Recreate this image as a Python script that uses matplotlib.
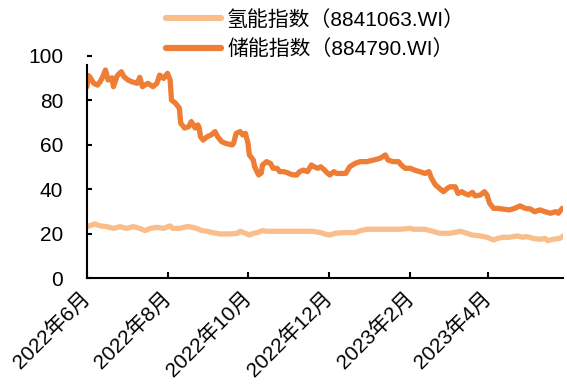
import matplotlib
matplotlib.use("Agg")
import matplotlib.pyplot as plt
import pandas as pd

plt.rcParams['font.family'] = ['Liberation Sans', 'Noto Sans CJK SC', 'DejaVu Sans']

# 储能指数 (884790.WI)
storage_dates = [
    "2022-06-01", "2022-06-02", "2022-06-03", "2022-06-06", "2022-06-09", "2022-06-11",
    "2022-06-13", "2022-06-15", "2022-06-17", "2022-06-20", "2022-06-21", "2022-06-24",
    "2022-06-27", "2022-06-29", "2022-07-02", "2022-07-05", "2022-07-09", "2022-07-11",
    "2022-07-13", "2022-07-17", "2022-07-21", "2022-07-24", "2022-07-26", "2022-07-29",
    "2022-08-01", "2022-08-03", "2022-08-04", "2022-08-07", "2022-08-10", "2022-08-11",
    "2022-08-14", "2022-08-17", "2022-08-19", "2022-08-22", "2022-08-24", "2022-08-25",
    "2022-08-26", "2022-08-28", "2022-08-31", "2022-09-03", "2022-09-06", "2022-09-08",
    "2022-09-11", "2022-09-14", "2022-09-19", "2022-09-20", "2022-09-22", "2022-09-25",
    "2022-09-27", "2022-09-29", "2022-10-01", "2022-10-02", "2022-10-05", "2022-10-06",
    "2022-10-09", "2022-10-11", "2022-10-12", "2022-10-15", "2022-10-18", "2022-10-20",
    "2022-10-23", "2022-10-25", "2022-10-28", "2022-10-31", "2022-11-02", "2022-11-05",
    "2022-11-07", "2022-11-09", "2022-11-12", "2022-11-15", "2022-11-18", "2022-11-20",
    "2022-11-23", "2022-11-25", "2022-11-28", "2022-11-30", "2022-12-02", "2022-12-05",
    "2022-12-07", "2022-12-11", "2022-12-14", "2022-12-17", "2022-12-21", "2022-12-25",
    "2022-12-30", "2023-01-04", "2023-01-09", "2023-01-13", "2023-01-15", "2023-01-19",
    "2023-01-23", "2023-01-25", "2023-01-28", "2023-02-01", "2023-02-04", "2023-02-08",
    "2023-02-12", "2023-02-15", "2023-02-17", "2023-02-20", "2023-02-23", "2023-02-26",
    "2023-03-01", "2023-03-03", "2023-03-07", "2023-03-09", "2023-03-12", "2023-03-14",
    "2023-03-17", "2023-03-20", "2023-03-22", "2023-03-26", "2023-03-29", "2023-03-31",
    "2023-04-02", "2023-04-05", "2023-04-08", "2023-04-12", "2023-04-17", "2023-04-21",
    "2023-04-25", "2023-04-29", "2023-05-03", "2023-05-06", "2023-05-10", "2023-05-14",
    "2023-05-18", "2023-05-22", "2023-05-24", "2023-05-27",
]
storage_values = [
    86.0, 91.0, 90.5, 87.6, 86.7, 88.2,
    90.5, 93.5, 89.0, 90.0, 86.0, 91.0,
    92.7, 90.5, 89.0, 88.2, 87.5, 90.2,
    86.0, 87.5, 86.0, 87.5, 91.2, 89.7,
    92.0, 89.0, 80.0, 78.6, 76.3, 69.6,
    67.4, 68.0, 70.3, 67.4, 68.8, 67.5,
    63.5, 62.0, 63.5, 64.3, 65.8, 63.5,
    61.3, 60.5, 59.8, 60.5, 65.0, 65.8,
    64.3, 65.0, 60.5, 55.3, 53.0, 50.0,
    46.3, 47.2, 50.8, 52.3, 51.5, 49.3,
    49.3, 47.8, 47.8, 47.3, 46.7, 46.3,
    46.3, 47.8, 48.5, 47.8, 50.8, 50.0,
    49.3, 50.0, 48.5, 47.2, 46.3, 47.8,
    47.0, 47.0, 47.0, 50.0, 51.5, 52.3,
    52.3, 53.0, 53.8, 55.3, 53.0, 52.3,
    52.3, 50.8, 49.3, 49.3, 48.5, 47.8,
    47.0, 47.8, 44.8, 41.8, 40.3, 38.8,
    40.3, 41.0, 41.0, 38.0, 38.8, 38.0,
    37.3, 38.5, 36.9, 37.3, 38.8, 37.3,
    33.6, 31.3, 31.3, 31.0, 30.6, 31.3,
    32.4, 31.3, 31.0, 29.8, 30.6, 29.8,
    29.1, 29.8, 29.1, 31.3,
]

# 氢能指数 (8841063.WI)
hydrogen_dates = [
    "2022-06-01", "2022-06-07", "2022-06-11", "2022-06-16", "2022-06-21", "2022-06-26",
    "2022-07-01", "2022-07-06", "2022-07-11", "2022-07-15", "2022-07-19", "2022-07-24",
    "2022-07-29", "2022-08-03", "2022-08-05", "2022-08-10", "2022-08-16", "2022-08-20",
    "2022-08-23", "2022-08-27", "2022-08-31", "2022-09-04", "2022-09-10", "2022-09-17",
    "2022-09-23", "2022-09-25", "2022-09-29", "2022-10-02", "2022-10-05", "2022-10-08",
    "2022-10-12", "2022-10-15", "2022-10-25", "2022-11-09", "2022-11-19", "2022-11-25",
    "2022-11-28", "2022-12-02", "2022-12-06", "2022-12-13", "2022-12-21", "2022-12-25",
    "2022-12-30", "2023-01-09", "2023-01-24", "2023-02-01", "2023-02-03", "2023-02-12",
    "2023-02-18", "2023-02-23", "2023-03-03", "2023-03-11", "2023-03-14", "2023-03-20",
    "2023-03-26", "2023-03-31", "2023-04-05", "2023-04-08", "2023-04-12", "2023-04-17",
    "2023-04-23", "2023-04-27", "2023-04-30", "2023-05-05", "2023-05-10", "2023-05-14",
    "2023-05-16", "2023-05-20", "2023-05-25", "2023-05-28",
]
hydrogen_values = [
    23.1, 24.3, 23.4, 23.1, 22.3, 23.1,
    22.3, 23.1, 22.3, 21.3, 22.3, 22.8,
    22.3, 23.4, 22.3, 22.3, 23.1, 22.8,
    22.3, 21.3, 21.0, 20.4, 19.8, 19.8,
    20.1, 21.0, 20.1, 19.3, 20.1, 20.4,
    21.3, 21.0, 21.0, 21.0, 21.0, 20.4,
    19.8, 19.3, 20.1, 20.4, 20.4, 21.3,
    21.9, 21.9, 21.9, 22.3, 21.9, 21.9,
    21.0, 20.1, 20.1, 21.0, 20.4, 19.3,
    18.9, 18.3, 17.1, 17.8, 18.3, 18.3,
    18.9, 18.3, 18.6, 17.8, 17.4, 17.8,
    16.8, 17.4, 17.8, 18.9,
]

tick_dates = ["2022-06-01", "2022-08-01", "2022-10-01", "2022-12-01", "2023-02-01", "2023-04-01"]
tick_labels = ["2022年6月", "2022年8月", "2022年10月", "2022年12月", "2023年2月", "2023年4月"]
y_ticks = [0, 20, 40, 60, 80, 100]

hydrogen_label = "氢能指数（8841063.WI）"
storage_label = "储能指数（884790.WI）"

fig = plt.figure(figsize=(5.67, 3.92), dpi=100)
ax = fig.add_axes([0.1534, 0.2908, 0.8396, 0.5676])

ax.plot(pd.to_datetime(hydrogen_dates), hydrogen_values, color="#F9BE8C", lw=3.8,
        solid_joinstyle="round", solid_capstyle="round", label=hydrogen_label)
ax.plot(pd.to_datetime(storage_dates), storage_values, color="#EE7D35", lw=3.8,
        solid_joinstyle="round", solid_capstyle="round", label=storage_label)

start = pd.Timestamp("2022-06-01")
ax.set_xlim(start, start + pd.Timedelta(days=360.6))
ax.set_ylim(0, 100)

ax.set_yticks(y_ticks)
ax.set_xticks(pd.to_datetime(tick_dates))
ax.set_xticklabels(tick_labels, rotation=45, ha="right", va="center", rotation_mode="anchor")

for side in ("top", "right"):
    ax.spines[side].set_visible(False)
for side in ("left", "bottom"):
    ax.spines[side].set_linewidth(1.5)
    ax.spines[side].set_color("black")
ax.spines["left"].set_bounds(0, 95.7)

ax.tick_params(axis="y", direction="in", length=3.3, width=1.5, pad=17, labelsize=15)
ax.tick_params(axis="x", direction="in", length=4.3, width=1.5, pad=12, labelsize=15)

leg = fig.legend(loc="upper left", bbox_to_anchor=(0.292, 0.975), ncol=1, frameon=False,
                 fontsize=15, handlelength=2.65, handletextpad=0.3, labelspacing=0.45,
                 borderpad=0, borderaxespad=0)
for line in leg.get_lines():
    line.set_linewidth(4.5)
    line.set_solid_capstyle("round")

fig.savefig("out.png", dpi=100)
